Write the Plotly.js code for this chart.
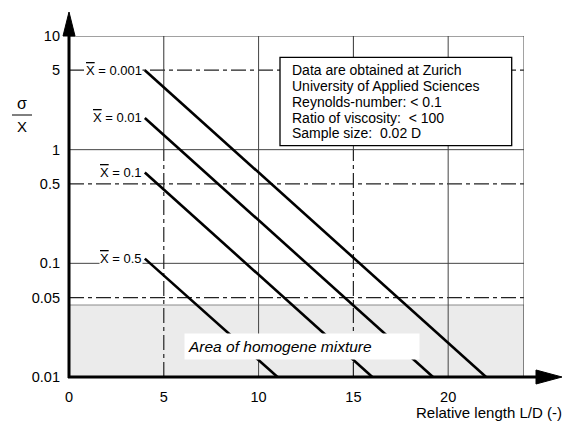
<!DOCTYPE html>
<html>
<head>
<meta charset="utf-8">
<script src="https://cdn.plot.ly/plotly-3.0.1.min.js"></script>
<style>html,body{margin:0;padding:0;background:#fff;}#chart{width:573px;height:425px;}</style>
</head>
<body>
<div id="chart"></div>
<script>
// ---- data ----
const seriesNames = ["0.001", "0.01", "0.1", "0.5"];
const xStart = [4, 4, 4, 4];
const yStart = [5, 1.9, 0.63, 0.11];
const xEnd = [22, 19.2, 16, 11];
const yEnd = [0.01, 0.01, 0.01, 0.01];
const xTicks = [0, 5, 10, 15, 20];
const yTicks = [0.01, 0.05, 0.1, 0.5, 1, 5, 10];
const yTickText = ["0.01", "0.05", "0.1", "0.5", "1", "5", "10"];
const hSolid = [10, 1, 0.1];
const hDash = [5, 0.5, 0.05];
const vSolid = [10, 20, 24];
const vSplit = [5, 15];
const homogeneLimit = 0.043;
const xMax = 24;
const infoLines = ["Data are obtained at Zurich", "University of Applied Sciences",
  "Reynolds-number: &lt; 0.1", "Ratio of viscosity:\u00a0 &lt; 100", "Sample size:\u00a0 0.02 D"];

const FONT = "Liberation Sans, Arial, sans-serif";
const XBAR = '<span style="text-decoration:overline">X</span>';
const traces = [];

// grey homogeneous area
traces.push({x: [0, xMax, xMax, 0, 0], y: [0.01, 0.01, homogeneLimit, homogeneLimit, 0.01],
  mode: "lines", fill: "toself", fillcolor: "#ebebeb", line: {color: "#8a8a8a", width: 1},
  hoverinfo: "skip", showlegend: false});

function hLines(vals) { const x = [], y = []; vals.forEach(v => { x.push(0, xMax, null); y.push(v, v, null); }); return {x, y}; }
function vLines(vals, y0, y1) { const x = [], y = []; vals.forEach(v => { x.push(v, v, null); y.push(y0, y1, null); }); return {x, y}; }

const DASH = "15px,4px,4px,4px";
let g = hLines(hSolid);
traces.push({x: g.x, y: g.y, mode: "lines", line: {color: "#444", width: 1}, hoverinfo: "skip", showlegend: false});
g = hLines(hDash);
traces.push({x: g.x, y: g.y, mode: "lines", line: {color: "#222", width: 1.2, dash: DASH}, hoverinfo: "skip", showlegend: false});
g = vLines(vSolid, 0.01, 10);
traces.push({x: g.x, y: g.y, mode: "lines", line: {color: "#444", width: 1}, hoverinfo: "skip", showlegend: false});
g = vLines(vSplit, 1, 10);
traces.push({x: g.x, y: g.y, mode: "lines", line: {color: "#333", width: 1}, hoverinfo: "skip", showlegend: false});
g = vLines(vSplit, 0.01, 1);
traces.push({x: g.x, y: g.y, mode: "lines", line: {color: "#222", width: 1.2, dash: DASH}, hoverinfo: "skip", showlegend: false});

// diagonal series
for (let i = 0; i < seriesNames.length; i++) {
  traces.push({x: [xStart[i], xEnd[i]], y: [yStart[i], yEnd[i]], mode: "lines",
    line: {color: "#000", width: 2.6}, name: "X = " + seriesNames[i], hoverinfo: "skip", showlegend: false});
}

// annotations
const annotations = [];
for (let i = 0; i < seriesNames.length; i++) {
  annotations.push({x: xStart[i] - 0.1, y: Math.log10(yStart[i]), xref: "x", yref: "y",
    text: XBAR + " = " + seriesNames[i], showarrow: false, xanchor: "right", yanchor: "middle",
    bgcolor: "#fff", borderpad: 0, font: {family: FONT, size: 13, color: "#000"}});
}
const L = 69, W = 455, B = 377, H = 341;
const px = v => (v - L) / W, py = v => (B - v) / H;
const lineCenters = [70.4, 86.1, 101.9, 117.7, 133.4];
infoLines.forEach((t, i) => annotations.push({x: px(290), y: py(lineCenters[i]), xref: "paper", yref: "paper",
  text: t, showarrow: false, xanchor: "left", yanchor: "middle", font: {family: FONT, size: 14, color: "#000"}}));
annotations.push({x: px(184), y: py(346.5), xref: "paper", yref: "paper", text: "<i>Area of homogene mixture</i>",
  showarrow: false, xanchor: "left", yanchor: "middle", align: "left", width: 228, height: 19, borderpad: 3,
  bgcolor: "#fff", font: {family: FONT, size: 15.5, color: "#000"}});
annotations.push({x: px(564), y: py(413), xref: "paper", yref: "paper", text: "Relative length L/D (-)",
  showarrow: false, xanchor: "right", yanchor: "middle", font: {family: FONT, size: 15, color: "#000"}});
annotations.push({x: px(22), y: py(103), xref: "paper", yref: "paper", text: "\u03c3",
  showarrow: false, xanchor: "center", yanchor: "middle", font: {family: FONT, size: 16, color: "#000"}});
annotations.push({x: px(22), y: py(126), xref: "paper", yref: "paper", text: "X",
  showarrow: false, xanchor: "center", yanchor: "middle", font: {family: FONT, size: 15, color: "#000"}});

const shapes = [
  // info box
  {type: "rect", xref: "paper", yref: "paper", x0: px(280), x1: px(511.7), y0: py(145.7), y1: py(57.3),
   fillcolor: "#fff", line: {color: "#000", width: 1.3}, layer: "above"},
  // fraction bar
  {type: "line", xref: "paper", yref: "paper", x0: px(12), x1: px(32), y0: py(115), y1: py(115), line: {color: "#000", width: 1}},
  // y axis
  {type: "line", xref: "paper", yref: "paper", x0: 0, x1: 0, y0: py(378), y1: py(34), line: {color: "#000", width: 3}, layer: "above"},
  {type: "path", xref: "paper", yref: "paper", path: `M ${px(69)},${py(12)} L ${px(63)},${py(36)} L ${px(75)},${py(36)} Z`,
   fillcolor: "#000", line: {color: "#000", width: 1}, layer: "above"},
  // x axis
  {type: "line", xref: "paper", yref: "paper", x0: px(68), x1: px(538), y0: 0, y1: 0, line: {color: "#000", width: 3}, layer: "above"},
  {type: "path", xref: "paper", yref: "paper", path: `M ${px(562)},${py(377)} L ${px(536)},${py(370)} L ${px(536)},${py(384)} Z`,
   fillcolor: "#000", line: {color: "#000", width: 1}, layer: "above"}
];

const layout = {
  width: 573, height: 425,
  margin: {l: L, r: 573 - L - W, t: 36, b: 425 - B},
  paper_bgcolor: "#fff", plot_bgcolor: "#fff",
  showlegend: false,
  font: {family: FONT, size: 14, color: "#000"},
  xaxis: {range: [0, xMax], tickvals: xTicks, ticktext: xTicks.map(String), showgrid: false, zeroline: false,
    showline: false, ticks: "", ticklabelstandoff: 9, tickfont: {family: FONT, size: 14.5, color: "#000"}},
  yaxis: {type: "log", range: [-2, 1], tickvals: yTicks, ticktext: yTickText, showgrid: false, zeroline: false,
    showline: false, ticks: "", ticklabelstandoff: 8, tickfont: {family: FONT, size: 14.5, color: "#000"}},
  annotations: annotations,
  shapes: shapes
};

Plotly.newPlot("chart", traces, layout, {displayModeBar: false, staticPlot: true});
</script>
</body>
</html>
